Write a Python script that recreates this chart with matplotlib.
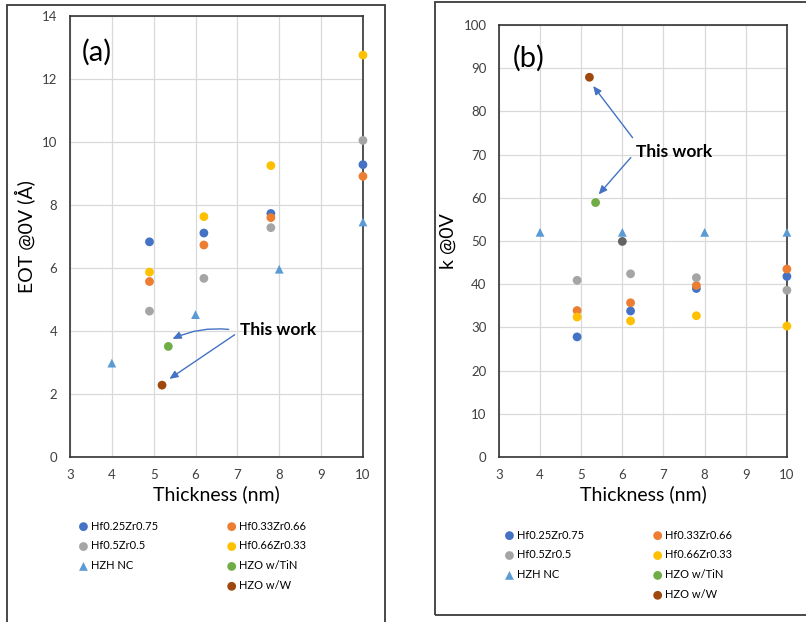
import matplotlib
matplotlib.use('Agg')
import matplotlib.pyplot as plt
from matplotlib.patches import Rectangle
from matplotlib.lines import Line2D

plt.rcParams['font.family'] = ['Lato', 'DejaVu Sans']

# series names and colours (Excel office palette)
names = ['Hf0.25Zr0.75', 'Hf0.33Zr0.66', 'Hf0.5Zr0.5', 'Hf0.66Zr0.33',
         'HZH NC', 'HZO w/TiN', 'HZO w/W']
colors = ['#4472C4', '#ED7D31', '#A5A5A5', '#FFC000', '#5B9BD5', '#70AD47', '#9E480E']
markers = ['o', 'o', 'o', 'o', '^', 'o', 'o']

# thickness (nm)
t_hz = [4.9, 6.2, 7.8, 10]
t_nc = [4, 6, 8, 10]
t_tin = [5.35]
t_w = [5.2]

# (a) EOT @0V (A)
eot = {
    'Hf0.25Zr0.75': [6.83, 7.11, 7.73, 9.28],
    'Hf0.33Zr0.66': [5.57, 6.73, 7.60, 8.91],
    'Hf0.5Zr0.5': [4.63, 5.67, 7.28, 10.05],
    'Hf0.66Zr0.33': [5.87, 7.63, 9.25, 12.76],
    'HZH NC': [2.98, 4.52, 5.96, 7.46],
    'HZO w/TiN': [3.51],
    'HZO w/W': [2.28],
}

# (b) k @0V
kval = {
    'Hf0.25Zr0.75': [27.8, 33.8, 39.0, 41.8],
    'Hf0.33Zr0.66': [33.9, 35.7, 39.7, 43.5],
    'Hf0.5Zr0.5': [40.9, 42.4, 41.5, 38.6],
    'Hf0.66Zr0.33': [32.4, 31.5, 32.7, 30.3],
    'HZH NC': [52, 52, 52, 52],
    'HZO w/TiN': [58.9],
    'HZO w/W': [87.9],
}
extra_t = [6.0]
extra_k = [49.9]

xs = {'Hf0.25Zr0.75': t_hz, 'Hf0.33Zr0.66': t_hz, 'Hf0.5Zr0.5': t_hz,
      'Hf0.66Zr0.33': t_hz, 'HZH NC': t_nc, 'HZO w/TiN': t_tin, 'HZO w/W': t_w}

fig = plt.figure(figsize=(8.06, 6.22), dpi=100)

# outer frames of the two pasted charts
fig.add_artist(Rectangle((0.0087, -0.05), 0.469, 1.042, transform=fig.transFigure,
                         fill=False, edgecolor='#3a3a3a', lw=1.3))
fig.add_artist(Rectangle((0.5397, 0.0113), 0.5, 0.9855, transform=fig.transFigure,
                         fill=False, edgecolor='#3a3a3a', lw=1.3))

ax1 = fig.add_axes([0.0868, 0.2653, 0.3635, 0.709])
ax2 = fig.add_axes([0.619, 0.2653, 0.3573, 0.6945])


def style(ax, ymax, ystep):
    ax.set_xlim(3, 10)
    ax.set_ylim(0, ymax)
    ax.set_xticks(range(3, 11))
    ax.set_yticks(range(0, ymax + 1, ystep))
    ax.grid(True, color='#d9d9d9', lw=0.9)
    ax.set_axisbelow(True)
    for s in ax.spines.values():
        s.set_color('#333333')
        s.set_linewidth(1.2)
    ax.tick_params(length=0, labelsize=9.5, colors='#404040', pad=9)
    ax.set_xlabel('Thickness (nm)', fontsize=14, labelpad=3)


def legend(ax, anchor):
    h = [ax.collections[i] for i in range(7)]
    blank = Line2D([], [], linestyle='none')
    handles = [h[0], h[2], h[4], blank, h[1], h[3], h[5], h[6]]
    labels = [names[0], names[2], names[4], '', names[1], names[3], names[5], names[6]]
    fig.legend(handles, labels, loc='upper left', bbox_to_anchor=anchor, ncol=2,
               frameon=False, fontsize=8, handlelength=0.7, handletextpad=0.3,
               columnspacing=6.3, labelspacing=0.8, borderpad=0, markerscale=1.0)


for ax, data in [(ax1, eot), (ax2, kval)]:
    for n, c, m in zip(names, colors, markers):
        ax.scatter(xs[n], data[n], s=40, color=c, marker=m, label=n, zorder=3,
                   edgecolors='none', clip_on=False)

ax2.scatter(extra_t, extra_k, s=40, color='#636363', zorder=3, edgecolors='none')

style(ax1, 14, 2)
style(ax2, 100, 10)
ax1.set_ylabel('EOT @0V (Å)', fontsize=14, labelpad=5)
ax2.set_ylabel('k @0V', fontsize=14, labelpad=5)

ax1.text(0.041, 0.918, '(a)', transform=ax1.transAxes, fontsize=21, va='center')
ax2.text(0.049, 0.924, '(b)', transform=ax2.transAxes, fontsize=21, va='center')

arrow = dict(arrowstyle='-|>,head_length=0.5,head_width=0.22', color='#4472C4', lw=1)

# (a) annotation
ax1.text(7.07, 4.04, 'This work', fontsize=12.5, fontweight='bold', va='center')
ax1.annotate('', xy=(5.39, 3.71), xytext=(6.86, 4.04),
             arrowprops=dict(arrow, connectionstyle='arc3,rad=0.15'))
ax1.annotate('', xy=(5.32, 2.43), xytext=(6.99, 3.93), arrowprops=arrow)

# (b) annotation
ax2.text(6.33, 70.7, 'This work', fontsize=12.5, fontweight='bold', va='center')
ax2.annotate('', xy=(5.25, 86.4), xytext=(6.29, 73.4), arrowprops=arrow)
ax2.annotate('', xy=(5.38, 60.3), xytext=(6.25, 69.8), arrowprops=arrow)

legend(ax1, (74 / 806, 1 - 515 / 622))
legend(ax2, (500 / 806, 1 - 524 / 622))

fig.savefig('out.png', dpi=100)
